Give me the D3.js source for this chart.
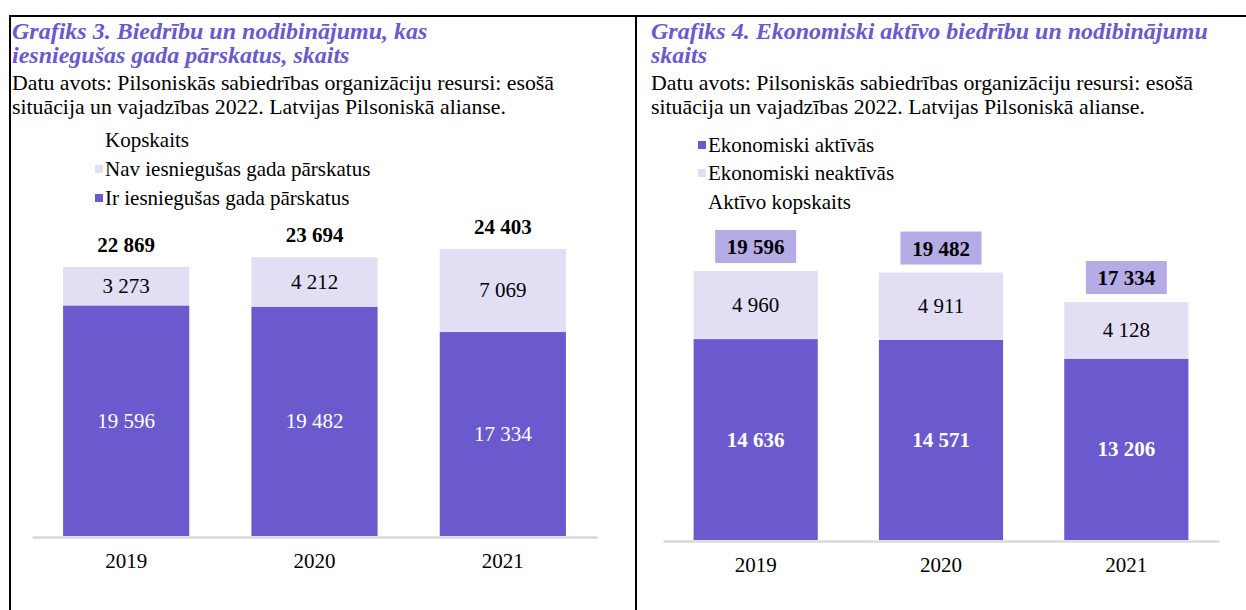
<!DOCTYPE html>
<html>
<head>
<meta charset="utf-8">
<script src="https://cdn.jsdelivr.net/npm/d3@7"></script>
<style>
  html, body { margin: 0; padding: 0; background: #fff; }
</style>
</head>
<body>
<div id="chart"></div>
<script>
const W = 1246, H = 610;
const FONT = "'Liberation Serif', 'Times New Roman', serif";

// Grafiks 3 data
const years = ['2019', '2020', '2021'];
const submitted = [19596, 19482, 17334];
const notSubmitted = [3273, 4212, 7069];
const totals = [22869, 23694, 24403];

// Grafiks 4 data
const active = [14636, 14571, 13206];
const inactive = [4960, 4911, 4128];
const activeTotals = [19596, 19482, 17334];

const PURPLE = '#6a5acd';
const LIGHT = '#e2dff5';
const BOX = '#b5ace6';
const AXIS_C = '#d9d9d9';
const NUM_FS = 21;

const fmt = v => d3.format(',')(v).replace(/,/g, ' ');

const svg = d3.select('#chart').append('svg')
  .attr('width', W).attr('height', H)
  .style('font-family', FONT);

// frame lines
const frame = svg.append('g').attr('stroke', '#000').attr('stroke-width', 2);
frame.append('line').attr('x1', 9).attr('y1', 16).attr('x2', W).attr('y2', 16);
frame.append('line').attr('x1', 10).attr('y1', 15).attr('x2', 10).attr('y2', H);
frame.append('line').attr('x1', 636).attr('y1', 15).attr('x2', 636).attr('y2', H);

function header(x, titleLines) {
  titleLines.forEach((t, i) => {
    svg.append('text')
      .attr('x', x).attr('y', 39 + i * 24)
      .attr('fill', PURPLE)
      .attr('font-size', 24).attr('font-weight', 'bold').attr('font-style', 'italic')
      .text(t);
  });
  ['Datu avots: Pilsoniskās sabiedrības organizāciju resursi: esošā',
   'situācija un vajadzības 2022. Latvijas Pilsoniskā alianse.'].forEach((t, i) => {
    svg.append('text')
      .attr('x', x).attr('y', 90 + i * 24)
      .attr('fill', '#000').attr('font-size', 21.8)
      .text(t);
  });
}

function legend(x, items) {
  items.forEach(it => {
    if (it.color) {
      svg.append('rect')
        .attr('x', x - 10).attr('y', it.y - 4)
        .attr('width', 8).attr('height', 8)
        .attr('fill', it.color);
    }
    svg.append('text')
      .attr('x', x).attr('y', it.y)
      .attr('dominant-baseline', 'central')
      .attr('font-size', 21).attr('fill', '#000')
      .text(it.label);
  });
}

function axis(g, x, y0) {
  g.attr('transform', `translate(0,${y0})`)
    .call(d3.axisBottom(x).tickSize(0).tickPadding(16))
    .call(a => a.select('.domain').attr('stroke', AXIS_C).attr('stroke-width', 2.5))
    .call(a => a.attr('font-family', FONT).attr('font-size', NUM_FS))
    .call(a => a.selectAll('text').attr('fill', '#000'));
}

// ---------- Grafiks 3 ----------
header(12, ['Grafiks 3. Biedrību un nodibinājumu, kas', 'iesniegušas gada pārskatus, skaits']);
legend(105, [
  { label: 'Kopskaits', y: 140 },
  { label: 'Nav iesniegušas gada pārskatus', y: 169, color: LIGHT },
  { label: 'Ir iesniegušas gada pārskatus', y: 198, color: PURPLE }
]);

const x1 = d3.scaleBand().domain(years).range([32, 597]).paddingInner(0.33).paddingOuter(0.165);
const y1 = d3.scaleLinear().domain([0, 30000]).range([536, 183]);

const g1 = svg.append('g');
g1.selectAll('rect.sub').data(years).join('rect')
  .attr('x', d => x1(d)).attr('width', x1.bandwidth())
  .attr('y', (d, i) => y1(submitted[i]))
  .attr('height', (d, i) => y1(0) - y1(submitted[i]))
  .attr('fill', PURPLE);
g1.selectAll('rect.nsub').data(years).join('rect')
  .attr('x', d => x1(d)).attr('width', x1.bandwidth())
  .attr('y', (d, i) => y1(submitted[i] + notSubmitted[i]))
  .attr('height', (d, i) => y1(submitted[i]) - y1(submitted[i] + notSubmitted[i]))
  .attr('fill', LIGHT);

axis(svg.append('g'), x1, 537);

years.forEach((d, i) => {
  const cx = x1(d) + x1.bandwidth() / 2;
  svg.append('text')
    .attr('x', cx).attr('y', (y1(0) + y1(submitted[i])) / 2)
    .attr('text-anchor', 'middle').attr('dominant-baseline', 'central')
    .attr('font-size', NUM_FS).attr('fill', '#fff')
    .text(fmt(submitted[i]));
  svg.append('text')
    .attr('x', cx).attr('y', (y1(submitted[i]) + y1(totals[i])) / 2)
    .attr('text-anchor', 'middle').attr('dominant-baseline', 'central')
    .attr('font-size', NUM_FS).attr('fill', '#000')
    .text(fmt(notSubmitted[i]));
  svg.append('text')
    .attr('x', cx).attr('y', y1(totals[i]) - 22)
    .attr('text-anchor', 'middle').attr('dominant-baseline', 'central')
    .attr('font-size', NUM_FS).attr('font-weight', 'bold').attr('fill', '#000')
    .text(fmt(totals[i]));
});

// ---------- Grafiks 4 ----------
header(651, ['Grafiks 4. Ekonomiski aktīvo biedrību un nodibinājumu', 'skaits']);
legend(708, [
  { label: 'Ekonomiski aktīvās', y: 145, color: PURPLE },
  { label: 'Ekonomiski neaktīvās', y: 173, color: LIGHT },
  { label: 'Aktīvo kopskaits', y: 202 }
]);

const x2 = d3.scaleBand().domain(years).range([663, 1219]).paddingInner(0.33).paddingOuter(0.165);
const y2 = d3.scaleLinear().domain([0, 25000]).range([540, 196.8]);

const g2 = svg.append('g');
g2.selectAll('rect.act').data(years).join('rect')
  .attr('x', d => x2(d)).attr('width', x2.bandwidth())
  .attr('y', (d, i) => y2(active[i]))
  .attr('height', (d, i) => y2(0) - y2(active[i]))
  .attr('fill', PURPLE);
g2.selectAll('rect.inact').data(years).join('rect')
  .attr('x', d => x2(d)).attr('width', x2.bandwidth())
  .attr('y', (d, i) => y2(active[i] + inactive[i]))
  .attr('height', (d, i) => y2(active[i]) - y2(active[i] + inactive[i]))
  .attr('fill', LIGHT);

axis(svg.append('g'), x2, 541);

years.forEach((d, i) => {
  const cx = x2(d) + x2.bandwidth() / 2;
  const top = y2(active[i] + inactive[i]);
  svg.append('text')
    .attr('x', cx).attr('y', (y2(0) + y2(active[i])) / 2)
    .attr('text-anchor', 'middle').attr('dominant-baseline', 'central')
    .attr('font-size', NUM_FS).attr('font-weight', 'bold').attr('fill', '#fff')
    .text(fmt(active[i]));
  svg.append('text')
    .attr('x', cx).attr('y', (y2(active[i]) + top) / 2)
    .attr('text-anchor', 'middle').attr('dominant-baseline', 'central')
    .attr('font-size', NUM_FS).attr('fill', '#000')
    .text(fmt(inactive[i]));
  svg.append('rect')
    .attr('x', cx - 40.5).attr('y', top - 41)
    .attr('width', 81).attr('height', 33)
    .attr('fill', BOX);
  svg.append('text')
    .attr('x', cx).attr('y', top - 24)
    .attr('text-anchor', 'middle').attr('dominant-baseline', 'central')
    .attr('font-size', NUM_FS).attr('font-weight', 'bold').attr('fill', '#000')
    .text(fmt(activeTotals[i]));
});
</script>
</body>
</html>
